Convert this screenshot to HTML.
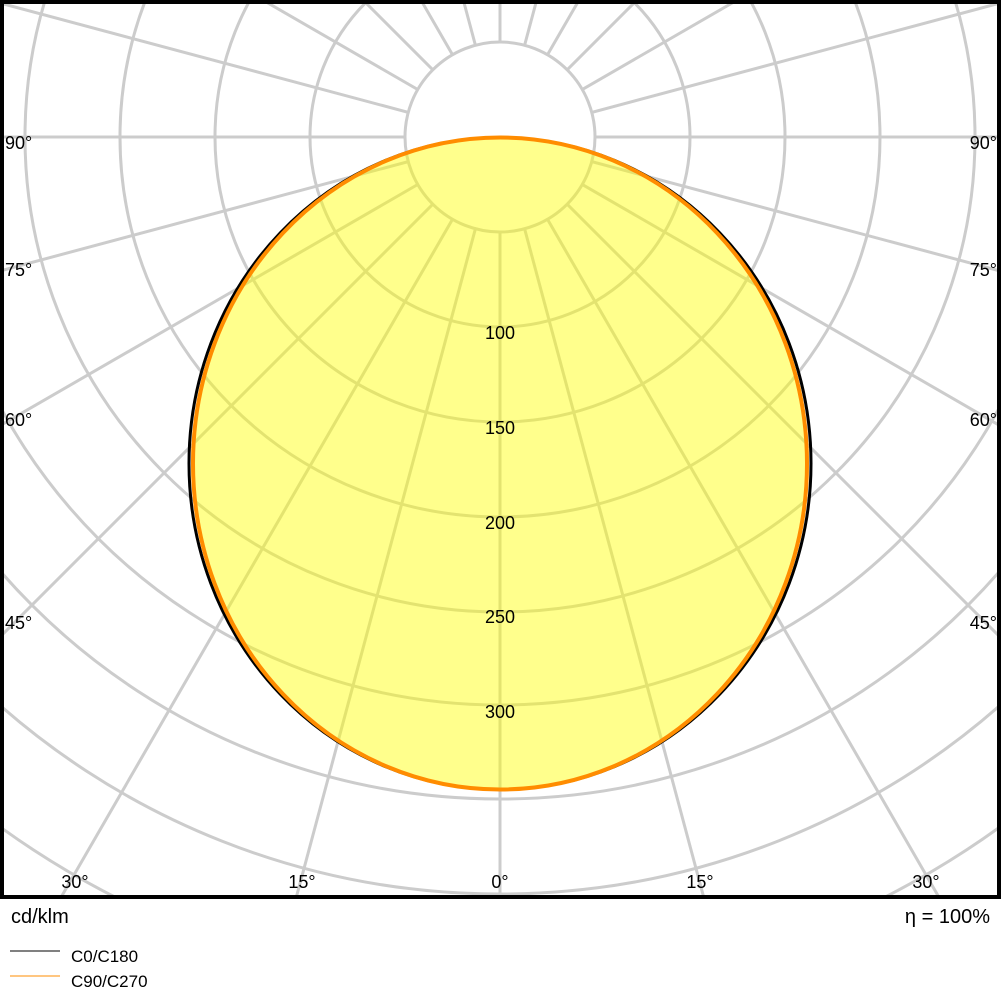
<!DOCTYPE html>
<html><head><meta charset="utf-8"><style>
html,body{margin:0;padding:0;background:#fff;width:1001px;height:1001px;overflow:hidden}
svg{display:block}
text{font-family:"Liberation Sans",sans-serif;fill:#000}
</style></head><body>
<svg width="1001" height="1001" viewBox="0 0 1001 1001" xmlns="http://www.w3.org/2000/svg">
<defs><clipPath id="c"><rect x="2" y="2" width="997" height="895"/></clipPath>
<mask id="m"><rect width="1001" height="1001" fill="#fff"/><circle cx="500" cy="137" r="95" fill="#000"/></mask></defs>
<g clip-path="url(#c)" stroke="#cccccc" stroke-width="3" fill="none">
<g mask="url(#m)">
<line x1="500" y1="137" x2="500" y2="1400"/>
<line x1="500" y1="137" x2="500" y2="-1400"/>
<line x1="-900" y1="137" x2="1900" y2="137"/>
<g id="rl">
<line x1="500" y1="137" x2="500" y2="1600" transform="rotate(15 500 137)"/>
<line x1="500" y1="137" x2="500" y2="1600" transform="rotate(30 500 137)"/>
<line x1="500" y1="137" x2="500" y2="1600" transform="rotate(45 500 137)"/>
<line x1="500" y1="137" x2="500" y2="1600" transform="rotate(60 500 137)"/>
<line x1="500" y1="137" x2="500" y2="1600" transform="rotate(75 500 137)"/>
<line x1="500" y1="137" x2="500" y2="1600" transform="rotate(105 500 137)"/>
<line x1="500" y1="137" x2="500" y2="1600" transform="rotate(120 500 137)"/>
<line x1="500" y1="137" x2="500" y2="1600" transform="rotate(135 500 137)"/>
<line x1="500" y1="137" x2="500" y2="1600" transform="rotate(150 500 137)"/>
<line x1="500" y1="137" x2="500" y2="1600" transform="rotate(165 500 137)"/>
</g>
<use href="#rl" transform="matrix(-1 0 0 1 1000 0)"/>
</g>
<circle cx="500" cy="137" r="95"/><circle cx="500" cy="137" r="190"/><circle cx="500" cy="137" r="285"/>
<circle cx="500" cy="137" r="380"/><circle cx="500" cy="137" r="475"/><circle cx="500" cy="137" r="568"/>
<circle cx="500" cy="137" r="662"/><circle cx="500" cy="137" r="757"/><circle cx="500" cy="137" r="852"/>
<circle cx="500" cy="137" r="947"/><circle cx="500" cy="137" r="1042"/>
</g>
<ellipse cx="500" cy="463.5" rx="309" ry="326" fill="#ffff00" fill-opacity="0.45" stroke="none"/>
<ellipse cx="500" cy="463.5" rx="311" ry="326" fill="none" stroke="#000" stroke-width="3"/>
<ellipse cx="500" cy="463.5" rx="307" ry="326" fill="none" stroke="#ff8c00" stroke-width="4"/>
<g font-size="18" text-anchor="middle">
<text x="500" y="339">100</text><text x="500" y="434">150</text><text x="500" y="529">200</text>
<text x="500" y="623">250</text><text x="500" y="718">300</text>
<text x="75" y="888">30°</text><text x="302" y="888">15°</text><text x="500" y="888">0°</text>
<text x="700" y="888">15°</text><text x="926" y="888">30°</text>
</g>
<g font-size="18">
<text x="5" y="149">90°</text><text x="5" y="276">75°</text><text x="5" y="426">60°</text><text x="5" y="629">45°</text>
</g>
<g font-size="18" text-anchor="end">
<text x="997" y="149">90°</text><text x="997" y="276">75°</text><text x="997" y="426">60°</text><text x="997" y="629">45°</text>
</g>
<rect x="2" y="2" width="997" height="895" fill="none" stroke="#000" stroke-width="4"/>
<text x="11" y="923" font-size="20">cd/klm</text>
<text x="990" y="923" font-size="20" text-anchor="end">η = 100%</text>
<line x1="10" y1="951" x2="60" y2="951" stroke="#000" stroke-width="1"/>
<line x1="10" y1="976" x2="60" y2="976" stroke="#ff8c00" stroke-width="1"/>
<text x="71" y="962" font-size="17">C0/C180</text>
<text x="71" y="987" font-size="17">C90/C270</text>
</svg>
</body></html>
